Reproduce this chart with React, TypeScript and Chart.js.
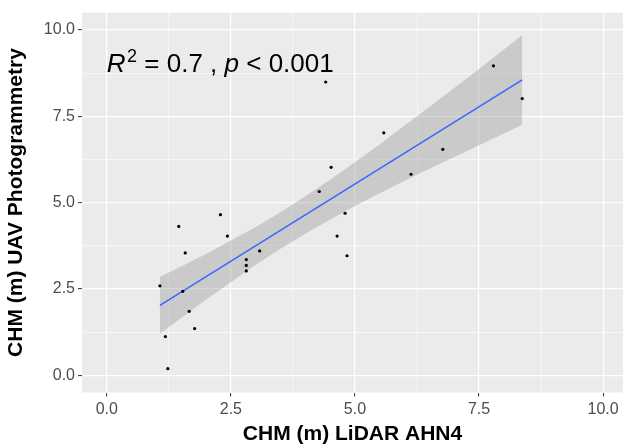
import React, { useEffect, useRef } from "react";
import { Chart, registerables } from "chart.js";

Chart.register(...registerables);

// Observed points
const lidarHeights = [1.07, 1.18, 1.23, 1.45, 1.58, 1.53, 1.66, 1.77, 2.29, 2.43, 2.81, 2.81, 2.81, 3.08, 4.28, 4.80, 4.64, 4.84, 4.41, 5.58, 4.52, 6.13, 6.77, 7.79, 8.37];
const uavHeights = [2.59, 1.12, 0.19, 4.31, 3.54, 2.43, 1.85, 1.35, 4.65, 4.03, 3.35, 3.18, 3.02, 3.60, 5.32, 4.69, 4.03, 3.46, 8.49, 7.02, 6.02, 5.82, 6.54, 8.96, 8.01];

// Fitted line
const fitX = [1.07, 8.37];
const fitY = [2.02, 8.55];

// Confidence band
const bandX = [1.07, 1.5, 2, 2.5, 3, 3.5, 4, 4.5, 5, 5.5, 6, 6.5, 7, 7.5, 8, 8.37];
const bandLower = [1.21, 1.66, 2.19, 2.69, 3.20, 3.66, 4.10, 4.51, 4.90, 5.27, 5.63, 5.98, 6.32, 6.66, 7.00, 7.25];
const bandUpper = [2.85, 3.15, 3.51, 3.90, 4.29, 4.72, 5.18, 5.66, 6.17, 6.69, 7.23, 7.77, 8.32, 8.87, 9.43, 9.85];

// Axis ticks (major + minor grid)
const tickValues = [0, 1.25, 2.5, 3.75, 5, 6.25, 7.5, 8.75, 10];
const tickLabels = ["0.0", "", "2.5", "", "5.0", "", "7.5", "", "10.0"];

const xTitle = "CHM (m) LiDAR AHN4";
const yTitle = "CHM (m) UAV Photogrammetry";
const statR2 = "0.7";
const statP = "0.001";
const statAnchor = { x: 0, y: 8.77 };

const FONT = "'Liberation Sans', Arial, sans-serif";

const isMajor = (v: number) => Math.abs(v / 2.5 - Math.round(v / 2.5)) < 1e-6;

const panelBg = {
  id: "panelBg",
  beforeDraw(chart: any) {
    const { ctx, chartArea } = chart;
    ctx.save();
    ctx.fillStyle = "#EBEBEB";
    ctx.fillRect(chartArea.left, chartArea.top, chartArea.right - chartArea.left, chartArea.bottom - chartArea.top);
    ctx.restore();
  },
};

const statLabel = {
  id: "statLabel",
  afterDatasetsDraw(chart: any) {
    const { ctx, scales } = chart;
    let x = scales.x.getPixelForValue(statAnchor.x);
    const y = scales.y.getPixelForValue(statAnchor.y);
    ctx.save();
    ctx.fillStyle = "#000000";
    ctx.textBaseline = "alphabetic";
    ctx.textAlign = "left";
    const parts: [string, string][] = [
      ["R", "italic"],
      ["2", "sup"],
      [" = " + statR2 + " , ", "normal"],
      ["p", "italic"],
      [" < " + statP, "normal"],
    ];
    for (const [t, style] of parts) {
      if (style === "sup") {
        ctx.font = `18px ${FONT}`;
        ctx.fillText(t, x + 1.5, y - 10);
        x += ctx.measureText(t).width + 1.5;
      } else {
        ctx.font = `${style === "italic" ? "italic " : ""}26px ${FONT}`;
        ctx.fillText(t, x, y);
        x += ctx.measureText(t).width;
      }
    }
    ctx.restore();
  },
};

function axisCommon(min: number, max: number, title: string, pad: any) {
  return {
    type: "linear" as const,
    min,
    max,
    afterBuildTicks: (axis: any) => {
      axis.ticks = tickValues.map((v) => ({ value: v }));
    },
    border: { display: false },
    grid: {
      color: "#FFFFFF",
      lineWidth: (ctx: any) => (ctx.tick && isMajor(ctx.tick.value) ? 1.2 : 0.55),
      drawTicks: true,
      tickLength: 4,
      tickColor: (ctx: any) => (ctx.tick && isMajor(ctx.tick.value) ? "#333333" : "rgba(0,0,0,0)"),
      tickWidth: 1,
    },
    ticks: {
      autoSkip: false,
      maxRotation: 0,
      padding: 3,
      color: "#4D4D4D",
      font: { family: FONT, size: 16 },
      callback: (_v: any, i: number) => tickLabels[i],
    },
    title: {
      display: true,
      text: title,
      color: "#000000",
      font: { family: FONT, size: 21, weight: "bold" as const, lineHeight: 1 },
      padding: pad,
    },
  };
}

export default function App() {
  const ref = useRef<HTMLCanvasElement>(null);
  useEffect(() => {
    if (!ref.current) return;
    const chart = new Chart(ref.current, {
      type: "scatter",
      data: {
        datasets: [
          {
            label: "lower",
            data: bandX.map((x, i) => ({ x, y: bandLower[i] })),
            showLine: true,
            borderWidth: 0,
            borderColor: "rgba(0,0,0,0)",
            pointRadius: 0,
            fill: false,
            order: 3,
          },
          {
            label: "upper",
            data: bandX.map((x, i) => ({ x, y: bandUpper[i] })),
            showLine: true,
            borderWidth: 0,
            borderColor: "rgba(0,0,0,0)",
            backgroundColor: "rgba(153,153,153,0.4)",
            pointRadius: 0,
            fill: "-1",
            order: 2,
          },
          {
            label: "fit",
            data: fitX.map((x, i) => ({ x, y: fitY[i] })),
            showLine: true,
            borderColor: "#3366FF",
            borderWidth: 1.4,
            pointRadius: 0,
            fill: false,
            order: 1,
          },
          {
            label: "points",
            data: lidarHeights.map((x, i) => ({ x, y: uavHeights[i] })),
            pointRadius: 1.6,
            pointBackgroundColor: "#000000",
            pointBorderWidth: 0,
            backgroundColor: "#000000",
            borderColor: "#000000",
            order: 0,
          },
        ],
      },
      options: {
        animation: false,
        responsive: false,
        devicePixelRatio: 1,
        layout: { padding: { top: 7.5, right: 0, left: 0, bottom: 0 } },
        plugins: { legend: { display: false }, tooltip: { enabled: false } },
        scales: {
          x: {
            ...axisCommon(-0.5, 10.4, xTitle, { top: 4, bottom: 0 }),
            afterFit: (scale: any) => {
              scale.height = 52.5;
            },
          },
          y: {
            ...axisCommon(-0.5, 10.5, yTitle, { top: 6, bottom: 4 }),
            afterFit: (scale: any) => {
              scale.width = 82;
            },
          },
        },
      },
      plugins: [panelBg, statLabel],
    });
    return () => chart.destroy();
  }, []);
  return (
    <div style={{ position: "absolute", left: 0, top: 0, width: 627, height: 445, background: "#FFFFFF" }}>
      <canvas ref={ref} width={627} height={445} style={{ display: "block" }} />
    </div>
  );
}
